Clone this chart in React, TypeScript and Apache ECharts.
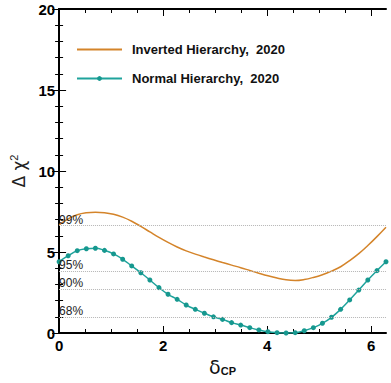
import React, { useEffect, useRef } from "react";
import * as echarts from "echarts";

const deltaCP = [
  0, 0.175, 0.349, 0.524, 0.698, 0.873, 1.047, 1.222, 1.396, 1.571, 1.745, 1.92,
  2.094, 2.269, 2.443, 2.618, 2.793, 2.967, 3.142, 3.316, 3.491, 3.665, 3.84,
  4.014, 4.189, 4.363, 4.538, 4.712, 4.887, 5.061, 5.236, 5.411, 5.585, 5.76,
  5.934, 6.109, 6.283,
];
const invertedChi2 = [
  6.67, 7.05, 7.3, 7.42, 7.46, 7.43, 7.33, 7.15, 6.9, 6.58, 6.24, 5.9, 5.59,
  5.31, 5.07, 4.87, 4.69, 4.52, 4.35, 4.19, 4.03, 3.86, 3.69, 3.53, 3.39, 3.28,
  3.24, 3.3, 3.43, 3.6, 3.82, 4.09, 4.47, 4.9, 5.4, 5.95, 6.53,
];
const normalChi2 = [
  4.4, 4.77, 5.08, 5.2, 5.23, 5.1, 4.88, 4.55, 4.14, 3.72, 3.27, 2.8, 2.39, 2.08,
  1.73, 1.46, 1.22, 1.0, 0.84, 0.64, 0.49, 0.33, 0.19, 0.08, 0.02, 0.0, 0.02,
  0.14, 0.33, 0.6, 0.97, 1.46, 2.04, 2.65, 3.27, 3.85, 4.4,
];
const clLevels = [6.63, 3.84, 2.71, 1.0];
const clLabels = ["99%", "95%", "90%", "68%"];
const xMajorTicks = [0, 2, 4, 6];
const xMinorTicks = [0.5, 1, 1.5, 2.5, 3, 3.5, 4.5, 5, 5.5];
const seriesNames = ["Inverted Hierarchy,  2020", "Normal Hierarchy,  2020"];

const FONT = "Liberation Sans";
const ORANGE = "#d4842a";
const TEAL = "#1fa39c";

export default function App() {
  const ref = useRef<HTMLDivElement>(null);
  useEffect(() => {
    document.body.style.margin = "0";
    const chart = echarts.init(ref.current!, null, { renderer: "svg" });
    const xBase = (position: string, ticks: number[], len: number, showLine: boolean) => ({
      type: "value",
      position,
      min: 0,
      max: 6.2832,
      axisLine: { show: showLine, onZero: false, lineStyle: { color: "#000", width: 2 } },
      axisTick: { show: true, inside: true, length: len, customValues: ticks, lineStyle: { color: "#000", width: 1 } },
      axisLabel: { show: false },
      splitLine: { show: false },
    });
    chart.setOption({
      animation: false,
      grid: { left: 53, right: 5, top: 9, bottom: 50 },
      legend: {
        orient: "vertical",
        left: 76,
        top: 43,
        padding: 0,
        itemWidth: 45,
        itemHeight: 6,
        itemGap: 16,
        data: [
          { name: seriesNames[0], itemStyle: { opacity: 0 } },
          { name: seriesNames[1] },
        ],
        textStyle: { fontFamily: FONT, fontWeight: "bold", fontSize: 13, color: "#111", padding: [0, 0, 0, 5] },
      },
      xAxis: [
        {
          ...xBase("bottom", xMajorTicks, 7, true),
          axisLabel: {
            show: true,
            customValues: xMajorTicks,
            fontFamily: FONT,
            fontWeight: "bold",
            fontSize: 15,
            color: "#000",
            margin: 5,
          },
          name: "{d|δ}{s|CP}",
          nameLocation: "middle",
          nameGap: 14,
          nameTextStyle: {
            rich: {
              d: { fontFamily: "DejaVu Sans", fontSize: 19, color: "#111", lineHeight: 24, verticalAlign: "bottom" },
              s: { fontFamily: FONT, fontWeight: "bold", fontSize: 11, color: "#111", verticalAlign: "bottom", lineHeight: 18 },
            },
          },
        },
        xBase("bottom", xMinorTicks, 4, false),
        xBase("top", xMajorTicks, 7, true),
        xBase("top", xMinorTicks, 4, false),
      ],
      yAxis: [
        {
          type: "value",
          position: "left",
          min: 0,
          max: 20,
          interval: 5,
          axisLine: { show: true, lineStyle: { color: "#000", width: 2 } },
          axisTick: { show: true, inside: true, length: 7, lineStyle: { color: "#000" } },
          minorTick: { show: true, splitNumber: 5, length: 4, lineStyle: { color: "#000" } },
          axisLabel: { fontFamily: FONT, fontWeight: "bold", fontSize: 15, color: "#000", margin: 4 },
          splitLine: { show: false },
          name: "{g|Δ χ}{s|2}",
          nameLocation: "middle",
          nameGap: 28,
          nameRotate: 90,
          nameTextStyle: {
            rich: {
              g: { fontFamily: "DejaVu Sans", fontSize: 17, color: "#222", lineHeight: 22 },
              s: { fontFamily: FONT, fontSize: 11, color: "#222", verticalAlign: "top", lineHeight: 14 },
            },
          },
        },
        {
          type: "value",
          position: "right",
          min: 0,
          max: 20,
          interval: 5,
          axisLine: { show: true, lineStyle: { color: "#000", width: 2 } },
          axisTick: { show: true, inside: true, length: 7, lineStyle: { color: "#000" } },
          minorTick: { show: true, splitNumber: 5, length: 4, lineStyle: { color: "#000" } },
          axisLabel: { show: false },
          splitLine: { show: false },
        },
      ],
      series: [
        {
          name: seriesNames[0],
          type: "line",
          smooth: 0.4,
          symbol: "none",
          data: deltaCP.map((x, i) => [x, invertedChi2[i]]),
          lineStyle: { color: ORANGE, width: 1.5 },
          itemStyle: { color: ORANGE },
          z: 3,
          markLine: {
            silent: true,
            symbol: "none",
            lineStyle: { type: "dotted", color: "#b5b5b5", width: 1 },
            label: {
              show: true,
              position: "insideStartTop",
              distance: [0, 0],
              formatter: "{b}",
              fontFamily: FONT,
              fontSize: 12,
              color: "#222",
            },
            data: clLevels.map((v, i) => ({ yAxis: v, name: clLabels[i] })),
          },
        },
        {
          name: seriesNames[1],
          type: "line",
          smooth: true,
          symbol: "circle",
          symbolSize: 5,
          showSymbol: true,
          data: deltaCP.map((x, i) => [x, normalChi2[i]]),
          lineStyle: { color: TEAL, width: 1.5 },
          itemStyle: { color: "#16988f" },
          z: 4,
        },
      ],
    });
    return () => chart.dispose();
  }, []);
  return <div ref={ref} style={{ width: 391, height: 383 }} />;
}
